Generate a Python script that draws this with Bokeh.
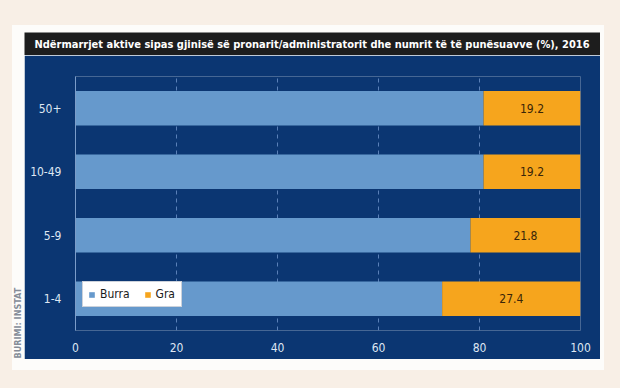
from bokeh.plotting import figure
from bokeh.layouts import row, column
from bokeh.models import (Label, LabelSet, Range1d, FactorRange,
                          ColumnDataSource, Legend, LegendItem, GlobalInlineStyleSheet)
from bokeh.core.properties import value
from bokeh.embed import file_html
from bokeh.resources import INLINE
import math

# ---- data ----
categories = ["1-4", "5-9", "10-49", "50+"]
burra = [72.6, 78.2, 80.8, 80.8]
gra = [27.4, 21.8, 19.2, 19.2]
x_ticks = [0, 20, 40, 60, 80, 100]
title_text = "Ndërmarrjet aktive sipas gjinisë së pronarit/administratorit dhe numrit të të punësuavve (%), 2016"
source_text = "BURIMI: INSTAT"

# ---- styles ----
CREAM = "#f8efe6"
WHITE = "#fdfcfa"
NAVY = "#0b3672"
BLACK = "#1d1d1d"
LIGHT = "#6699cc"
ORANGE = "#f6a51d"
FONT = "'Liberation Sans Narrow', 'DejaVu Sans Condensed', 'Roboto', sans-serif"


def bare_fig(w, h, fill):
    f = figure(width=w, height=h, output_backend="svg", toolbar_location=None,
               x_range=Range1d(0, w), y_range=Range1d(0, h),
               min_border=0, min_border_left=0, min_border_right=0,
               min_border_top=0, min_border_bottom=0)
    f.axis.visible = False
    f.grid.visible = False
    f.outline_line_color = None
    f.background_fill_color = fill
    f.border_fill_color = fill
    f.frame_align = False
    return f


src = ColumnDataSource(dict(
    cat=categories,
    Burra=burra,
    Gra=gra,
    mid=[b + g / 2 for b, g in zip(burra, gra)],
    lab=[f"{g:.1f}" for g in gra],
))

# ---- title bar ----
tfig = bare_fig(576, 23, BLACK)
tfig.add_layout(Label(x=10, y=11.5, text=title_text, text_color="white",
                      text_font=FONT, text_font_style="bold", text_font_size="11px",
                      text_baseline="middle", text_align="left"))

# ---- source strip ----
sfig = bare_fig(12, 327, WHITE)
sfig.add_layout(Label(x=5.5, y=1, text=source_text, angle=math.pi / 2,
                      text_color="#858c98", text_font=FONT, text_font_size="9px",
                      text_font_style="bold", text_baseline="middle", text_align="left"))

# ---- main chart ----
p = figure(width=576, height=304, output_backend="svg", toolbar_location=None,
           y_range=FactorRange(factors=categories, range_padding=0),
           x_range=Range1d(0, 100),
           min_border_left=51, min_border_right=20,
           min_border_top=21, min_border_bottom=29)
p.frame_align = False
p.border_fill_color = NAVY
p.background_fill_color = NAVY
p.outline_line_color = None

renderers = p.hbar_stack(["Burra", "Gra"], y="cat", height=0.54, color=[LIGHT, ORANGE],
                         line_color=None, source=src)

labels = LabelSet(x="mid", y="cat", text="lab", source=src, text_align="center",
                  text_baseline="middle", text_color="#3a2508", text_font_size="12px",
                  text_font=value(FONT))
p.add_layout(labels)

p.ygrid.grid_line_color = None
p.xgrid.ticker = x_ticks
p.xgrid.grid_line_color = "#5a80b8"
p.xgrid.grid_line_dash = "4 4"
p.xgrid.grid_line_width = 1

p.xaxis.ticker = x_ticks
p.xaxis.axis_line_color = None
p.xaxis.major_tick_line_color = None
p.xaxis.minor_tick_line_color = None
p.xaxis.major_label_text_color = "#dfe7f3"
p.xaxis.major_label_text_font_size = "12px"
p.xaxis.major_label_text_font = FONT
p.xaxis.major_label_standoff = 6

p.yaxis.axis_line_color = "#7b9cc9"
p.yaxis.major_tick_line_color = None
p.yaxis.minor_tick_line_color = None
p.yaxis.major_label_text_color = "#dfe7f3"
p.yaxis.major_label_text_font_size = "12px"
p.yaxis.major_label_text_font = FONT
p.yaxis.major_label_standoff = 8

legend = Legend(items=[LegendItem(label="Burra", renderers=[renderers[0]]),
                       LegendItem(label="Gra", renderers=[renderers[1]])],
                orientation="horizontal", location=(7, 23),
                background_fill_color="white", background_fill_alpha=1,
                border_line_color="#9aa6b8", border_line_width=1,
                label_text_font=FONT, label_text_font_size="12px",
                label_text_color="#1a1a1a",
                glyph_width=7, glyph_height=7, padding=5, spacing=14,
                label_standoff=5, margin=0, label_height=12)
p.add_layout(legend, "center")

panel = column(tfig, p, spacing=0)
root = row(sfig, panel, spacing=0,
           styles={"background-color": WHITE, "margin-left": "12px", "margin-top": "25px",
                   "padding": "7px 4px 11px 0px"})
root.stylesheets = [GlobalInlineStyleSheet(
    css=f"html, body {{ margin: 0; padding: 0; background-color: {CREAM}; }}")]

open("out.html", "w").write(file_html(root, INLINE))
